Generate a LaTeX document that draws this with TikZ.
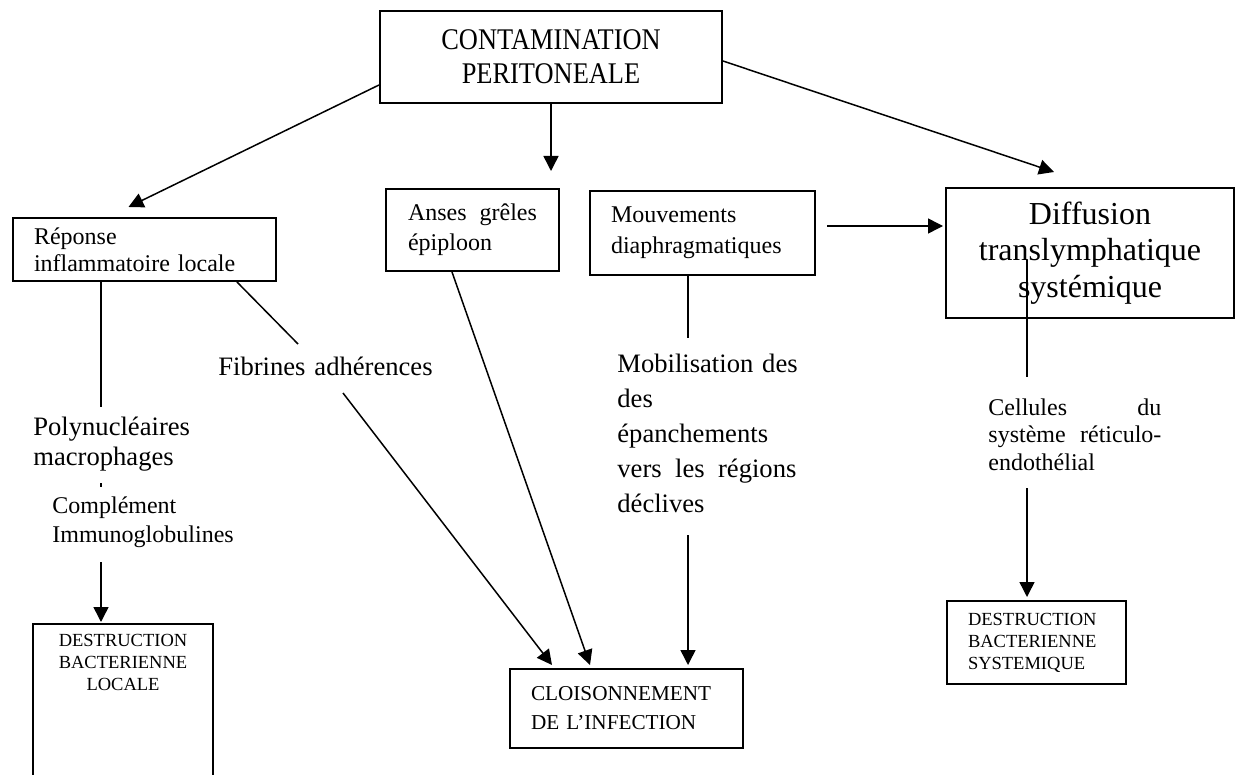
\documentclass[tikz,border=0pt]{standalone}
\usepackage{fontspec}
\setmainfont{Liberation Serif}
\newfontfamily\narrowserif[FakeStretch=0.88]{Liberation Serif}
\usetikzlibrary{calc,arrows.meta}

\begin{document}
\begin{tikzpicture}[x=0.5pt,y=-0.5pt]
\tikzstyle{box} = [draw, line width=1pt, inner ysep=2pt]
\tikzstyle{line} = [draw, line width=0.75pt, -{Triangle[length=7.5pt,width=7.5pt]}]
\tikzstyle{link} = [draw, line width=0.75pt]
\tikzstyle{txt} = [anchor=base west, inner sep=0pt, align=left]

\fill[white] (0,0) rectangle (1236,775);
\useasboundingbox (0,0) rectangle (1236,775);

% boxes
\node[box, minimum width=171pt, minimum height=46pt, align=center,
  font=\narrowserif\fontsize{15}{17}\selectfont] (contam) at (551,57)
  {CONTAMINATION\\PERITONEALE};

\node[box, anchor=north west, minimum width=131.5pt, minimum height=31.5pt,
  text width=110.5pt, inner xsep=10.5pt, align=left,
  font=\fontsize{12}{13.5}\selectfont] (reponse) at (12,217)
  {Réponse\\inflammatoire locale};

\node[box, anchor=north west, minimum width=86.5pt, minimum height=41pt,
  text width=64.5pt, inner xsep=11pt, align=left,
  font=\fontsize{12}{15}\selectfont] (anses) at (385,188)
  {Anses\hfill grêles\\épiploon};

\node[box, anchor=north west, minimum width=112.5pt, minimum height=42pt,
  text width=91.5pt, inner xsep=10.5pt, align=left,
  font=\fontsize{12}{15.5}\selectfont] (mouv) at (589,190)
  {Mouvements\\diaphragmatiques};

\node[box, anchor=north west, minimum width=144pt, minimum height=65pt,
  align=center, font=\fontsize{16}{18.25}\selectfont] (diffusion) at (945,187)
  {Diffusion\\translymphatique\\systémique};

\node[box, anchor=north west, minimum width=116.5pt, minimum height=39.5pt,
  text width=95.5pt, inner xsep=10.5pt, align=left,
  font=\fontsize{10.6}{14.5}\selectfont] (cloison) at (509,668)
  {CLOISONNEMENT\\DE L’INFECTION};

\node[box, anchor=north west, minimum width=89.5pt, minimum height=41.5pt,
  text width=68.5pt, inner xsep=10.5pt, align=left,
  font=\fontsize{9.25}{11}\selectfont] (destsys) at (946,600)
  {DESTRUCTION\\BACTERIENNE\\SYSTEMIQUE};

\node[box, anchor=north west, text width=80pt, inner xsep=5pt, inner ysep=4.9pt,
  align=center, font=\fontsize{9.25}{11}\selectfont] (destlocal) at (32,623)
  {DESTRUCTION\\BACTERIENNE\\LOCALE\\[90pt]\mbox{}};

% free texts
\node[txt, text width=90pt, font=\fontsize{13.3}{15}\selectfont] (poly) at (33,435)
  {Polynucléaires\\macrophages};
\node[txt, text width=95pt, font=\fontsize{12}{14.5}\selectfont] (immuno) at (52,513)
  {Complément\\Immunoglobulines};
\node[txt, text width=110pt, font=\fontsize{13.3}{15}\selectfont] (fibrines) at (218,375)
  {Fibrines adhérences};
\node[txt, text width=89.5pt, font=\fontsize{13.3}{17.5}\selectfont] (mobil) at (617,372)
  {\mbox{Mobilisation des}\\des\\épanchements\\vers\hfill les\hfill régions\\déclives};
\node[txt, text width=86.5pt, font=\fontsize{12}{13.75}\selectfont] (cellules) at (988,415)
  {Cellules\hfill du\\système\hfill réticulo-\\endothélial};

% connectors
\draw[line] ($(contam.west)+(0,28)$) -- ($(reponse.north)+(-16,-10)$);
\draw[line] (contam.south) -- ++(0,67);
\draw[line] ($(contam.east)+(0,4)$) -- ($(diffusion.north)+(-36,-15)$);
\draw[line] ($(mouv.east)+(11,-7)$) -- ($(diffusion.west)+(-2,-27)$);

\draw[link] ($(reponse.south west)+(89,0)$) -- ++(0,125);
\draw[link] ($(poly.base west)+(68,48)$) -- ++(0,4);
\draw[line] ($(immuno.base west)+(49,49)$) -- ($(destlocal.north west)+(69,-1)$);

\draw[link] ($(reponse.south east)+(-40,0)$) -- ($(fibrines.base west)+(80,-31)$);
\draw[line] ($(fibrines.base west)+(125,18)$) -- ($(cloison.north west)+(43,-3)$);
\draw[line] ($(anses.south west)+(67,0)$) -- ($(cloison.north west)+(81,-3)$);

\draw[link] ($(mouv.south west)+(99,0)$) -- ($(mobil.base west)+(71,-34)$);
\draw[line] ($(mobil.base west)+(71,163)$) -- ($(cloison.north west)+(179,-3)$);

\draw[link] ($(diffusion.south west)+(82,-59)$) -- ($(cellules.base west)+(39,-38)$);
\draw[line] ($(cellules.base west)+(39,73)$) -- ($(destsys.north west)+(81,-3)$);
\end{tikzpicture}
\end{document}
